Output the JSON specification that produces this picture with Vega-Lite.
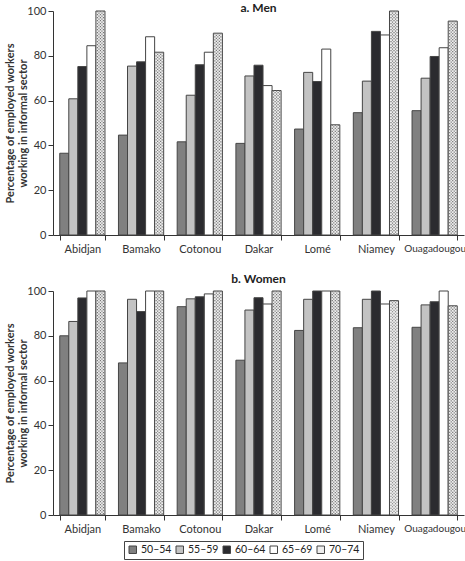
{
  "$schema": "https://vega.github.io/schema/vega-lite/v6.json",
  "autosize": "none",
  "padding": {"left": 53, "top": 11, "right": 412, "bottom": 550},
  "background": "white",
  "datasets": {
    "informal": [
      {"sex": "Men", "city": "Abidjan", "age": "50–54", "value": 36.5},
      {"sex": "Men", "city": "Abidjan", "age": "55–59", "value": 60.8},
      {"sex": "Men", "city": "Abidjan", "age": "60–64", "value": 75.2},
      {"sex": "Men", "city": "Abidjan", "age": "65–69", "value": 84.5},
      {"sex": "Men", "city": "Abidjan", "age": "70–74", "value": 100},
      {"sex": "Men", "city": "Bamako", "age": "50–54", "value": 44.6},
      {"sex": "Men", "city": "Bamako", "age": "55–59", "value": 75.4},
      {"sex": "Men", "city": "Bamako", "age": "60–64", "value": 77.3},
      {"sex": "Men", "city": "Bamako", "age": "65–69", "value": 88.5},
      {"sex": "Men", "city": "Bamako", "age": "70–74", "value": 81.6},
      {"sex": "Men", "city": "Cotonou", "age": "50–54", "value": 41.6},
      {"sex": "Men", "city": "Cotonou", "age": "55–59", "value": 62.4},
      {"sex": "Men", "city": "Cotonou", "age": "60–64", "value": 76.0},
      {"sex": "Men", "city": "Cotonou", "age": "65–69", "value": 81.6},
      {"sex": "Men", "city": "Cotonou", "age": "70–74", "value": 90.1},
      {"sex": "Men", "city": "Dakar", "age": "50–54", "value": 40.9},
      {"sex": "Men", "city": "Dakar", "age": "55–59", "value": 71.0},
      {"sex": "Men", "city": "Dakar", "age": "60–64", "value": 75.8},
      {"sex": "Men", "city": "Dakar", "age": "65–69", "value": 66.7},
      {"sex": "Men", "city": "Dakar", "age": "70–74", "value": 64.5},
      {"sex": "Men", "city": "Lomé", "age": "50–54", "value": 47.3},
      {"sex": "Men", "city": "Lomé", "age": "55–59", "value": 72.6},
      {"sex": "Men", "city": "Lomé", "age": "60–64", "value": 68.5},
      {"sex": "Men", "city": "Lomé", "age": "65–69", "value": 83.0},
      {"sex": "Men", "city": "Lomé", "age": "70–74", "value": 49.2},
      {"sex": "Men", "city": "Niamey", "age": "50–54", "value": 54.6},
      {"sex": "Men", "city": "Niamey", "age": "55–59", "value": 68.7},
      {"sex": "Men", "city": "Niamey", "age": "60–64", "value": 90.9},
      {"sex": "Men", "city": "Niamey", "age": "65–69", "value": 89.3},
      {"sex": "Men", "city": "Niamey", "age": "70–74", "value": 100},
      {"sex": "Men", "city": "Ouagadougou", "age": "50–54", "value": 55.5},
      {"sex": "Men", "city": "Ouagadougou", "age": "55–59", "value": 70.0},
      {"sex": "Men", "city": "Ouagadougou", "age": "60–64", "value": 79.7},
      {"sex": "Men", "city": "Ouagadougou", "age": "65–69", "value": 83.6},
      {"sex": "Men", "city": "Ouagadougou", "age": "70–74", "value": 95.5},
      {"sex": "Women", "city": "Abidjan", "age": "50–54", "value": 80.0},
      {"sex": "Women", "city": "Abidjan", "age": "55–59", "value": 86.4},
      {"sex": "Women", "city": "Abidjan", "age": "60–64", "value": 96.9},
      {"sex": "Women", "city": "Abidjan", "age": "65–69", "value": 100},
      {"sex": "Women", "city": "Abidjan", "age": "70–74", "value": 100},
      {"sex": "Women", "city": "Bamako", "age": "50–54", "value": 67.9},
      {"sex": "Women", "city": "Bamako", "age": "55–59", "value": 96.3},
      {"sex": "Women", "city": "Bamako", "age": "60–64", "value": 90.8},
      {"sex": "Women", "city": "Bamako", "age": "65–69", "value": 100},
      {"sex": "Women", "city": "Bamako", "age": "70–74", "value": 100},
      {"sex": "Women", "city": "Cotonou", "age": "50–54", "value": 93.0},
      {"sex": "Women", "city": "Cotonou", "age": "55–59", "value": 96.5},
      {"sex": "Women", "city": "Cotonou", "age": "60–64", "value": 97.4},
      {"sex": "Women", "city": "Cotonou", "age": "65–69", "value": 98.7},
      {"sex": "Women", "city": "Cotonou", "age": "70–74", "value": 100},
      {"sex": "Women", "city": "Dakar", "age": "50–54", "value": 69.1},
      {"sex": "Women", "city": "Dakar", "age": "55–59", "value": 91.5},
      {"sex": "Women", "city": "Dakar", "age": "60–64", "value": 97.0},
      {"sex": "Women", "city": "Dakar", "age": "65–69", "value": 94.2},
      {"sex": "Women", "city": "Dakar", "age": "70–74", "value": 100},
      {"sex": "Women", "city": "Lomé", "age": "50–54", "value": 82.4},
      {"sex": "Women", "city": "Lomé", "age": "55–59", "value": 96.3},
      {"sex": "Women", "city": "Lomé", "age": "60–64", "value": 100},
      {"sex": "Women", "city": "Lomé", "age": "65–69", "value": 100},
      {"sex": "Women", "city": "Lomé", "age": "70–74", "value": 100},
      {"sex": "Women", "city": "Niamey", "age": "50–54", "value": 83.6},
      {"sex": "Women", "city": "Niamey", "age": "55–59", "value": 96.3},
      {"sex": "Women", "city": "Niamey", "age": "60–64", "value": 100},
      {"sex": "Women", "city": "Niamey", "age": "65–69", "value": 94.2},
      {"sex": "Women", "city": "Niamey", "age": "70–74", "value": 95.7},
      {"sex": "Women", "city": "Ouagadougou", "age": "50–54", "value": 83.8},
      {"sex": "Women", "city": "Ouagadougou", "age": "55–59", "value": 93.8},
      {"sex": "Women", "city": "Ouagadougou", "age": "60–64", "value": 95.2},
      {"sex": "Women", "city": "Ouagadougou", "age": "65–69", "value": 100},
      {"sex": "Women", "city": "Ouagadougou", "age": "70–74", "value": 93.4}
    ]
  },
  "data": {"name": "informal"},
  "spacing": 56,
  "bounds": "flush",
  "vconcat": [
    {
      "width": 411,
      "height": 224,
      "title": {"text": "a. Men", "offset": -10},
      "transform": [{"filter": "datum.sex === 'Men'"}],
      "encoding": {
        "y": {"field": "value", "type": "quantitative",
              "scale": {"domain": [0, 100], "nice": false},
              "axis": {"values": [0, 20, 40, 60, 80, 100], "labelPadding": 2,
                       "title": ["Percentage of employed workers", "working in informal sector"],
                       "titleFontWeight": "bold", "titleFontSize": 11, "titleColor": "#333",
                       "titleX": -38, "titleY": 112, "titleBaseline": "bottom", "titleLineHeight": 13}}
      },
      "layer": [
        {
          "mark": {"type": "bar", "stroke": "#454545", "strokeWidth": 1},
          "encoding": {
            "x": {"field": "city", "type": "nominal", "sort": null,
                  "scale": {"paddingInner": 0.23, "paddingOuter": 0.115},
                  "axis": {"title": null, "labelAngle": 0, "tickBand": "extent", "labelPadding": 3,
                           "labelFontSize": {"condition": {"test": "datum.value === 'Ouagadougou'", "value": 10}, "value": 11}}},
            "xOffset": {"field": "age", "type": "nominal", "sort": null, "scale": {"paddingInner": 0, "paddingOuter": 0}},
            "fill": {"field": "age", "type": "nominal", "sort": null,
                     "scale": {"domain": ["50–54", "55–59", "60–64", "65–69", "70–74"],
                               "range": ["#808080", "#c3c3c3", "#2b2b2f", "#ffffff", "#eeeeee"]},
                     "legend": {"orient": "none", "legendX": 71, "legendY": 530, "direction": "horizontal", "title": null,
                                "strokeColor": "#444", "padding": 3.5, "symbolType": "square", "symbolSize": 56,
                                "symbolStrokeColor": "#444", "symbolStrokeWidth": 1, "symbolOpacity": 1,
                                "labelFontSize": 10.5, "labelColor": "#222", "labelOffset": 3, "columnPadding": 2}}
          }
        },
        {"transform": [{"filter": "datum.age === '70–74'"}],
         "mark": {"type": "rule", "strokeWidth": 1.2, "strokeDash": [1.2, 1.8], "strokeDashOffset": 0, "color": "#777777"},
         "encoding": {"x": {"field": "city", "type": "nominal", "sort": null, "bandPosition": 0.8336,
                            "axis": {"title": null, "labelAngle": 0, "tickBand": "extent", "labelPadding": 3}}, "y2": {"datum": 0}}},
        {"transform": [{"filter": "datum.age === '70–74'"}],
         "mark": {"type": "rule", "strokeWidth": 1.2, "strokeDash": [1.2, 1.8], "strokeDashOffset": 1.5, "color": "#777777"},
         "encoding": {"x": {"field": "city", "type": "nominal", "sort": null, "bandPosition": 0.8668,
                            "axis": {"title": null, "labelAngle": 0, "tickBand": "extent", "labelPadding": 3}}, "y2": {"datum": 0}}},
        {"transform": [{"filter": "datum.age === '70–74'"}],
         "mark": {"type": "rule", "strokeWidth": 1.2, "strokeDash": [1.2, 1.8], "strokeDashOffset": 0, "color": "#777777"},
         "encoding": {"x": {"field": "city", "type": "nominal", "sort": null, "bandPosition": 0.9,
                            "axis": {"title": null, "labelAngle": 0, "tickBand": "extent", "labelPadding": 3}}, "y2": {"datum": 0}}},
        {"transform": [{"filter": "datum.age === '70–74'"}],
         "mark": {"type": "rule", "strokeWidth": 1.2, "strokeDash": [1.2, 1.8], "strokeDashOffset": 1.5, "color": "#777777"},
         "encoding": {"x": {"field": "city", "type": "nominal", "sort": null, "bandPosition": 0.9332,
                            "axis": {"title": null, "labelAngle": 0, "tickBand": "extent", "labelPadding": 3}}, "y2": {"datum": 0}}},
        {"transform": [{"filter": "datum.age === '70–74'"}],
         "mark": {"type": "rule", "strokeWidth": 1.2, "strokeDash": [1.2, 1.8], "strokeDashOffset": 0, "color": "#777777"},
         "encoding": {"x": {"field": "city", "type": "nominal", "sort": null, "bandPosition": 0.9664,
                            "axis": {"title": null, "labelAngle": 0, "tickBand": "extent", "labelPadding": 3}}, "y2": {"datum": 0}}}
      ]
    },
    {
      "width": 411,
      "height": 224,
      "title": {"text": "b. Women", "offset": -1},
      "transform": [{"filter": "datum.sex === 'Women'"}],
      "encoding": {
        "y": {"field": "value", "type": "quantitative",
              "scale": {"domain": [0, 100], "nice": false},
              "axis": {"values": [0, 20, 40, 60, 80, 100], "labelPadding": 2,
                       "title": ["Percentage of employed workers", "working in informal sector"],
                       "titleFontWeight": "bold", "titleFontSize": 11, "titleColor": "#333",
                       "titleX": -38, "titleY": 112, "titleBaseline": "bottom", "titleLineHeight": 13}}
      },
      "layer": [
        {
          "mark": {"type": "bar", "stroke": "#454545", "strokeWidth": 1},
          "encoding": {
            "x": {"field": "city", "type": "nominal", "sort": null,
                  "scale": {"paddingInner": 0.23, "paddingOuter": 0.115},
                  "axis": {"title": null, "labelAngle": 0, "tickBand": "extent", "labelPadding": 3,
                           "labelFontSize": {"condition": {"test": "datum.value === 'Ouagadougou'", "value": 10}, "value": 11}}},
            "xOffset": {"field": "age", "type": "nominal", "sort": null, "scale": {"paddingInner": 0, "paddingOuter": 0}},
            "fill": {"field": "age", "type": "nominal", "sort": null,
                     "scale": {"domain": ["50–54", "55–59", "60–64", "65–69", "70–74"],
                               "range": ["#808080", "#c3c3c3", "#2b2b2f", "#ffffff", "#eeeeee"]}}
          }
        },
        {"transform": [{"filter": "datum.age === '70–74'"}],
         "mark": {"type": "rule", "strokeWidth": 1.2, "strokeDash": [1.2, 1.8], "strokeDashOffset": 0, "color": "#777777"},
         "encoding": {"x": {"field": "city", "type": "nominal", "sort": null, "bandPosition": 0.8336,
                            "axis": {"title": null, "labelAngle": 0, "tickBand": "extent", "labelPadding": 3}}, "y2": {"datum": 0}}},
        {"transform": [{"filter": "datum.age === '70–74'"}],
         "mark": {"type": "rule", "strokeWidth": 1.2, "strokeDash": [1.2, 1.8], "strokeDashOffset": 1.5, "color": "#777777"},
         "encoding": {"x": {"field": "city", "type": "nominal", "sort": null, "bandPosition": 0.8668,
                            "axis": {"title": null, "labelAngle": 0, "tickBand": "extent", "labelPadding": 3}}, "y2": {"datum": 0}}},
        {"transform": [{"filter": "datum.age === '70–74'"}],
         "mark": {"type": "rule", "strokeWidth": 1.2, "strokeDash": [1.2, 1.8], "strokeDashOffset": 0, "color": "#777777"},
         "encoding": {"x": {"field": "city", "type": "nominal", "sort": null, "bandPosition": 0.9,
                            "axis": {"title": null, "labelAngle": 0, "tickBand": "extent", "labelPadding": 3}}, "y2": {"datum": 0}}},
        {"transform": [{"filter": "datum.age === '70–74'"}],
         "mark": {"type": "rule", "strokeWidth": 1.2, "strokeDash": [1.2, 1.8], "strokeDashOffset": 1.5, "color": "#777777"},
         "encoding": {"x": {"field": "city", "type": "nominal", "sort": null, "bandPosition": 0.9332,
                            "axis": {"title": null, "labelAngle": 0, "tickBand": "extent", "labelPadding": 3}}, "y2": {"datum": 0}}},
        {"transform": [{"filter": "datum.age === '70–74'"}],
         "mark": {"type": "rule", "strokeWidth": 1.2, "strokeDash": [1.2, 1.8], "strokeDashOffset": 0, "color": "#777777"},
         "encoding": {"x": {"field": "city", "type": "nominal", "sort": null, "bandPosition": 0.9664,
                            "axis": {"title": null, "labelAngle": 0, "tickBand": "extent", "labelPadding": 3}}, "y2": {"datum": 0}}}
      ]
    }
  ],
  "config": {
    "view": {"stroke": null},
    "font": "Lato",
    "axis": {"labelFont": "Lato", "labelFontSize": 11, "labelColor": "#333", "domainColor": "#333",
             "tickColor": "#333", "tickSize": 5, "grid": false, "titleFont": "Lato"},
    "legend": {"labelFont": "Lato", "strokeColor": "#444"},
    "title": {"font": "Lato", "fontSize": 12, "fontWeight": "bold", "color": "#222", "anchor": "middle"}
  }
}
